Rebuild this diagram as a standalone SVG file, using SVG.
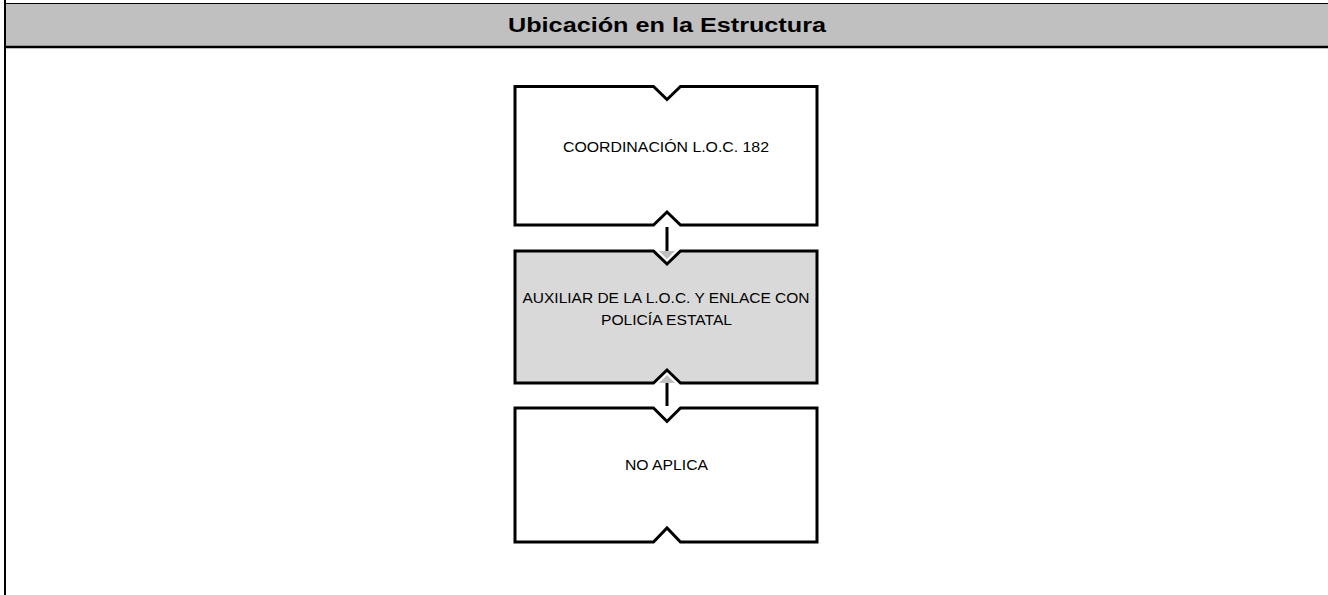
<svg xmlns="http://www.w3.org/2000/svg" width="1328" height="595" viewBox="0 0 1328 595">
<style>
.frame{fill:none;stroke:#000}
.node{stroke:#000;stroke-width:3;stroke-linejoin:miter}
.white{fill:#fff}
.gray{fill:#d9d9d9}
.lbl{font-family:"Liberation Sans",Arial,sans-serif;font-size:14px;fill:#000;text-anchor:middle}
.title{font-family:"Liberation Sans",Arial,sans-serif;font-size:20px;font-weight:bold;fill:#000;text-anchor:middle}
.conn{stroke:#000;stroke-width:3;fill:none}
</style>
<defs>
<marker id="tri" markerUnits="userSpaceOnUse" markerWidth="16" markerHeight="18" viewBox="0 -9 9 18" refX="0" refY="0" orient="auto">
<path d="M0,-8 L8,0 L0,8 Z" fill="#bfbfbf"/>
</marker>
</defs>
<rect x="0" y="0" width="1328" height="595" fill="#fff"/>
<g id="header">
<rect x="5" y="3.5" width="1323" height="43" fill="#c0c0c0"/>
<line x1="5" y1="3.5" x2="1328" y2="3.5" class="frame" stroke-width="1"/>
<line x1="5" y1="47" x2="1328" y2="47" class="frame" stroke-width="2.5"/>
<line x1="5" y1="0" x2="5" y2="595" class="frame" stroke-width="2"/>
<text class="title" x="667" y="32" textLength="318" lengthAdjust="spacingAndGlyphs">Ubicación en la Estructura</text>
</g>
<g id="connectors">
<line class="conn" x1="667" y1="227" x2="667" y2="251" marker-end="url(#tri)"/>
<line class="conn" x1="667" y1="406" x2="667" y2="383" marker-end="url(#tri)"/>
</g>
<g id="node1">
<path class="node white" d="M515,86.5 H653.5 L667,99.5 L680.5,86.5 H817 V225 H680.5 L667,212 L653.5,225 H515 Z"/>
<text class="lbl" x="666" y="152" textLength="206" lengthAdjust="spacingAndGlyphs">COORDINACIÓN L.O.C. 182</text>
</g>
<g id="node2">
<path class="node gray" d="M515,251 H653.5 L667,264 L680.5,251 H817 V383 H680.5 L667,370 L653.5,383 H515 Z"/>
<text class="lbl" x="666" y="302.5" textLength="287" lengthAdjust="spacingAndGlyphs">AUXILIAR DE LA L.O.C. Y ENLACE CON</text>
<text class="lbl" x="666.5" y="325" textLength="131" lengthAdjust="spacingAndGlyphs">POLICÍA ESTATAL</text>
</g>
<g id="node3">
<path class="node white" d="M515,408 H653.5 L667,421.5 L680.5,408 H817 V542 H680.5 L667,528 L653.5,542 H515 Z"/>
<text class="lbl" x="666.5" y="470" textLength="83" lengthAdjust="spacingAndGlyphs">NO APLICA</text>
</g>
</svg>
